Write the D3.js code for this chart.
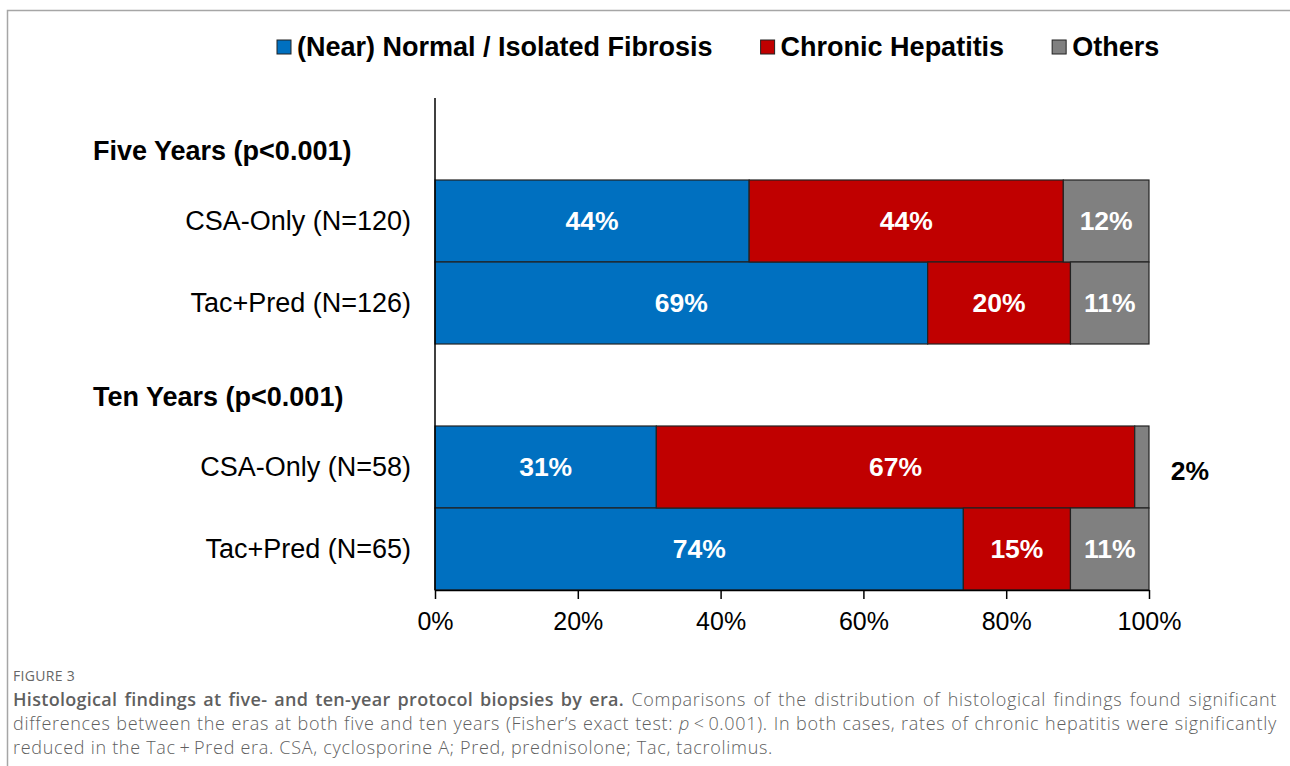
<!DOCTYPE html>
<html>
<head>
<meta charset="utf-8">
<script src="https://cdn.jsdelivr.net/npm/d3@7"></script>
<style>
  body { margin: 0; background: #fff; }
  #wrap { position: relative; width: 1290px; height: 766px; overflow: hidden; }
  #chart { position: absolute; left: 0; top: 0; }
  #caption {
    position: absolute; left: 13px; top: 666px; width: 1264px;
    font-family: "Open Sans", sans-serif; color: #5f5f5f;
  }
  #caption .fig { font-size: 14px; font-weight: 400; color: #666; letter-spacing: 0.3px; margin-bottom: 2px; }
  #caption .line { font-size: 18px; font-weight: 300; letter-spacing: 0.7px; line-height: 24px; text-align: justify; text-align-last: justify; white-space: nowrap; }
  #caption .line.last { text-align-last: left; }
  #caption b { font-weight: 600; letter-spacing: 0.3px; }
</style>
</head>
<body>
<div id="wrap">
  <svg id="chart" width="1290" height="766"></svg>
  <div id="caption">
    <div class="fig">FIGURE 3</div>
    <div class="line"><b>Histological findings at five- and ten-year protocol biopsies by era.</b> Comparisons of the distribution of histological findings found significant</div>
    <div class="line">differences between the eras at both five and ten years (Fisher’s exact test: <i>p</i>&thinsp;&lt;&thinsp;0.001). In both cases, rates of chronic hepatitis were significantly</div>
    <div class="line last">reduced in the Tac&thinsp;+&thinsp;Pred era. CSA, cyclosporine A; Pred, prednisolone; Tac, tacrolimus.</div>
  </div>
</div>
<script>
// data
const seriesNames = ["(Near) Normal / Isolated Fibrosis", "Chronic Hepatitis", "Others"];
const seriesColors = ["#0070C0", "#C00000", "#808080"];
const groupLabels = ["Five Years (p<0.001)", "Ten Years (p<0.001)"];
const barLabels = ["CSA-Only (N=120)", "Tac+Pred (N=126)", "CSA-Only (N=58)", "Tac+Pred (N=65)"];
const barGroup = [0, 0, 1, 1];
const normalVals = [44, 69, 31, 74];
const hepatitisVals = [44, 20, 67, 15];
const otherVals = [12, 11, 2, 11];
const tickVals = [0, 20, 40, 60, 80, 100];

const svg = d3.select("#chart");
const font = "'Liberation Sans', Arial, sans-serif";

// frame around the figure
svg.append("rect")
  .attr("x", 7.5).attr("y", 10.5)
  .attr("width", 1400).attr("height", 900)
  .attr("fill", "none")
  .attr("stroke", "#a6a6a6")
  .attr("stroke-width", 1.5);

// slots: group header, then its bars
const slots = [];
const barSlot = [];
groupLabels.forEach((g, gi) => {
  slots.push("g" + gi);
  barLabels.forEach((b, bi) => {
    if (barGroup[bi] === gi) { barSlot[bi] = "b" + bi; slots.push("b" + bi); }
  });
});

const x = d3.scaleLinear().domain([0, 100]).range([435, 1149]);
const y = d3.scaleBand().domain(slots).range([98, 590]).padding(0);

const rows = barLabels.map((label, i) => ({
  label, slot: barSlot[i],
  s0: normalVals[i], s1: hepatitisVals[i], s2: otherVals[i]
}));

const stack = d3.stack().keys(["s0", "s1", "s2"]);
const layers = stack(rows);

const gBars = svg.append("g");
layers.forEach((layer, li) => {
  gBars.selectAll(".seg" + li)
    .data(layer)
    .enter()
    .append("rect")
    .attr("x", d => x(d[0]))
    .attr("y", d => y(d.data.slot))
    .attr("width", d => x(d[1]) - x(d[0]))
    .attr("height", y.bandwidth())
    .attr("fill", seriesColors[li])
    .attr("stroke", "#222")
    .attr("stroke-width", 1.2);

  // small segments get their label outside the bar
  gBars.selectAll(".lab" + li)
    .data(layer)
    .enter()
    .append("text")
    .attr("x", d => (d[1] - d[0]) < 5 ? 1190 : x((d[0] + d[1]) / 2))
    .attr("y", d => y(d.data.slot) + y.bandwidth() / 2 + ((d[1] - d[0]) < 5 ? 4 : 0))
    .attr("dy", "0.35em")
    .attr("text-anchor", "middle")
    .attr("font-family", font)
    .attr("font-weight", "bold")
    .attr("font-size", 26.5)
    .attr("fill", d => (d[1] - d[0]) < 5 ? "#000" : "#fff")
    .text(d => (d[1] - d[0]) + "%");
});

// bar category labels
svg.selectAll(".catlab")
  .data(rows)
  .enter()
  .append("text")
  .attr("x", 411)
  .attr("y", d => y(d.slot) + y.bandwidth() / 2)
  .attr("dy", "0.35em")
  .attr("text-anchor", "end")
  .attr("font-family", font)
  .attr("font-size", 27)
  .attr("fill", "#000")
  .text(d => d.label);

// group headers
svg.selectAll(".grplab")
  .data(groupLabels)
  .enter()
  .append("text")
  .attr("x", 93)
  .attr("y", (d, i) => y("g" + i) + y.bandwidth() * 0.64)
  .attr("dy", "0.35em")
  .attr("font-family", font)
  .attr("font-weight", "bold")
  .attr("font-size", 27)
  .attr("fill", "#000")
  .text(d => d);

// axes
const xAxis = svg.append("g")
  .attr("transform", "translate(0,590)")
  .call(d3.axisBottom(x).tickValues(tickVals).tickSize(9).tickSizeOuter(0).tickFormat(d => d + "%"));
xAxis.select(".domain").attr("stroke", "#000").attr("stroke-width", 1.5);
xAxis.selectAll(".tick line").attr("stroke", "#000").attr("stroke-width", 1.5);
xAxis.selectAll(".tick text")
  .attr("font-family", font)
  .attr("font-size", 25)
  .attr("fill", "#000")
  .attr("y", 22);

svg.append("line")
  .attr("x1", x(0)).attr("x2", x(0))
  .attr("y1", y.range()[0]).attr("y2", y.range()[1])
  .attr("stroke", "#000")
  .attr("stroke-width", 1.5);

// legend
const legend = svg.append("g").attr("transform", "translate(277,47)");
let lx = 0;
seriesNames.forEach((name, i) => {
  const item = legend.append("g").attr("transform", `translate(${lx},0)`);
  item.append("rect")
    .attr("x", 0).attr("y", -7)
    .attr("width", 14).attr("height", 14)
    .attr("fill", seriesColors[i])
    .attr("stroke", "#222")
    .attr("stroke-width", 1);
  const t = item.append("text")
    .attr("x", 20)
    .attr("dy", "0.35em")
    .attr("font-family", font)
    .attr("font-weight", "bold")
    .attr("font-size", 27)
    .attr("fill", "#000")
    .text(name);
  lx += 20 + t.node().getComputedTextLength() + 48;
});
</script>
</body>
</html>
